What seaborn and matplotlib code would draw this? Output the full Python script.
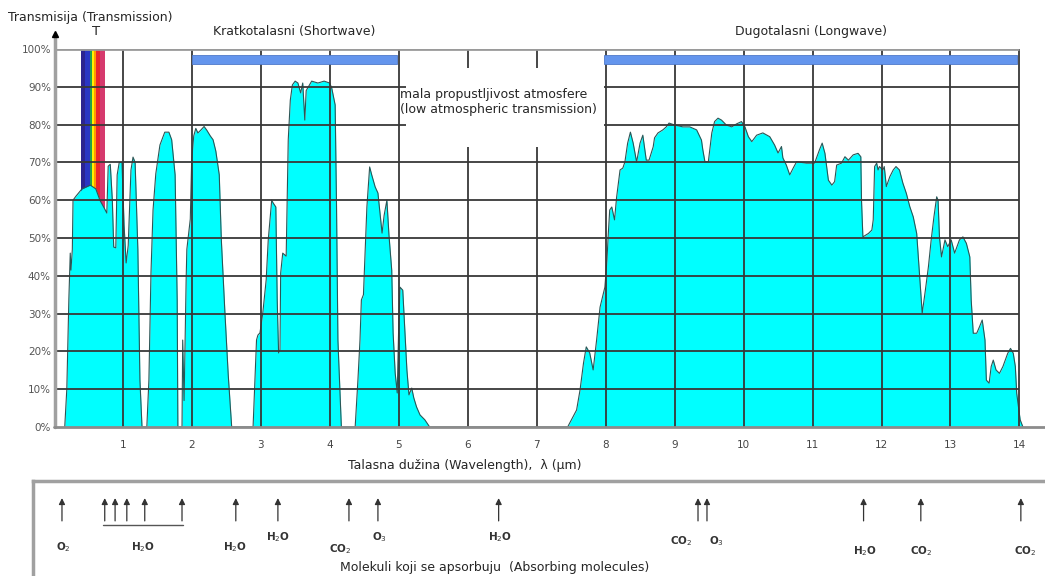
import numpy as np
import pandas as pd
import seaborn as sns
import matplotlib.pyplot as plt
from matplotlib.patches import Rectangle

# atmospheric transmission curve (wavelength in um, transmission in %)
wavelength = [
    0.16, 0.19, 0.22, 0.24, 0.25, 0.27, 0.28, 0.32, 0.41, 0.53, 0.61, 0.67, 0.73, 0.77,
    0.79, 0.82, 0.85, 0.87, 0.90, 0.92, 0.95, 0.99, 1.02, 1.05, 1.08, 1.12, 1.15, 1.18,
    1.22, 1.25, 1.28,
    1.35, 1.38, 1.41, 1.44, 1.48, 1.54, 1.61, 1.67, 1.71, 1.76, 1.79, 1.80,
    1.86, 1.87, 1.89, 1.92, 1.93, 1.98, 2.00, 2.03, 2.06, 2.09, 2.13, 2.18, 2.22, 2.27,
    2.31, 2.35, 2.40, 2.43, 2.48, 2.53, 2.58,
    2.89, 2.94, 2.96, 2.99, 3.03, 3.08, 3.11, 3.16, 3.18, 3.22, 3.24, 3.26, 3.28, 3.29,
    3.32, 3.37, 3.40, 3.43, 3.46, 3.50, 3.54, 3.58, 3.61, 3.64, 3.66, 3.74, 3.83, 3.92,
    4.00, 4.03, 4.08, 4.10, 4.12, 4.17,
    4.37, 4.41, 4.44, 4.46, 4.49, 4.54, 4.58, 4.61, 4.66, 4.70, 4.73, 4.76, 4.79, 4.83,
    4.86, 4.90, 4.92, 4.95, 4.98, 5.00, 5.02, 5.06, 5.09, 5.12, 5.15, 5.19, 5.22, 5.26,
    5.31, 5.38, 5.45,
    7.45, 7.58, 7.63, 7.68, 7.72, 7.77, 7.82, 7.87, 7.92, 7.99, 8.02, 8.04, 8.06, 8.09,
    8.13, 8.16, 8.21, 8.25, 8.28, 8.32, 8.36, 8.40, 8.45, 8.50, 8.54, 8.59, 8.63, 8.69,
    8.71, 8.76, 8.83, 8.88, 8.92, 9.00, 9.12, 9.22, 9.32, 9.39, 9.41, 9.44, 9.49, 9.54,
    9.58, 9.63, 9.68, 9.75, 9.83, 9.90, 9.97, 10.02, 10.07, 10.12, 10.19, 10.28, 10.38,
    10.45, 10.50, 10.55, 10.57, 10.62, 10.67, 10.72, 10.77, 10.91, 11.03, 11.10, 11.14,
    11.18, 11.23, 11.28, 11.32, 11.35, 11.42, 11.47, 11.52, 11.59, 11.66, 11.70, 11.71,
    11.73, 11.81, 11.86, 11.88, 11.90, 11.93, 11.95, 11.97, 12.02, 12.04, 12.07, 12.12,
    12.17, 12.21, 12.26, 12.31, 12.36, 12.41, 12.46, 12.51, 12.56, 12.59, 12.63, 12.68,
    12.72, 12.76, 12.80, 12.82, 12.84, 12.87, 12.92, 12.96, 13.01, 13.06, 13.13, 13.18,
    13.23, 13.28, 13.30, 13.33, 13.38, 13.42, 13.46, 13.50, 13.52, 13.56, 13.59, 13.62,
    13.66, 13.71, 13.76, 13.83, 13.87, 13.91, 13.94, 13.96, 14.01, 14.05,
]
transmission = [
    0, 10, 34, 46, 41.5, 47, 60, 61, 63, 64, 63, 60, 58, 56.6,
    69, 69.5, 60, 47.6, 47.4, 66.7, 70, 70, 53.4, 43.4, 48, 68, 71.4, 70,
    47, 12.4, 0,
    0, 12.4, 40.7, 57.4, 67, 74.6, 78, 78, 76, 66.7, 33.6, 0,
    0, 23, 7, 39, 47, 55, 70.6, 77, 79, 77.8, 78.5, 79.5, 78.5, 77,
    76, 73, 66.7, 49.5, 31, 13.8, 0,
    0, 23, 24.3, 24.9, 30, 38.9, 49.5, 60, 59.3, 58.2, 33.6, 19.6, 20.4, 40.7,
    46, 45.2, 76, 86.5, 90.5, 91.5, 91, 88.4, 91, 81.2, 89, 91.5, 91, 91.5,
    91, 89.7, 85.2, 58.2, 23, 0,
    0, 12.4, 23, 33.6, 35, 58.2, 68.8, 66.7, 63.5, 61.9, 56.6, 51.3, 56, 60,
    50.8, 41.5, 24.9, 14.3, 9, 25.7, 37, 36.2, 25.7, 15.1, 8.5, 10.3, 7.7, 5.3,
    3.2, 1.9, 0,
    0, 4.5, 9.8, 16.9, 21.2, 19.6, 15.1, 23, 31.7, 37, 44.2, 51.3, 57.4, 58.2,
    54.8, 60.8, 68, 68.5, 70.1, 75.1, 78, 75.1, 70.1, 75.1, 77.2, 70.6, 70.6, 74.1,
    76.5, 77.8, 78.6, 79.4, 80.4, 79.9, 79.4, 79.4, 78.6, 75.9, 73.3, 70.2, 70.2, 77.8,
    80.8, 81.7, 81.2, 79.9, 79.4, 80.2, 80.8, 79.4, 76.8, 75.5, 77.2, 77.8, 76.8,
    74.6, 72.5, 74.2, 71.2, 69.3, 66.7, 68.5, 70.2, 69.8, 69.8, 73.3, 75.1,
    72.4, 65.3, 64, 64.9, 69.3, 69.8, 71.5, 70.6, 72, 72.4, 71.5, 60,
    50.3, 51.2, 52.1, 54.8, 68.9, 69.8, 68, 68.9, 68, 68.9, 63.6, 66.2,
    68, 68.9, 68, 64.5, 61.8, 58.3, 55.6, 51.2, 38, 30.1, 35.4, 42.4,
    49.5, 55.6, 60.9, 60, 50.3, 45, 49.5, 47.7, 49.5, 46, 49.5, 50.3,
    48.6, 45, 33.6, 24.8, 24.8, 26.5, 28.3, 23, 12.4, 11.6, 16, 17.7,
    15.1, 14.2, 16, 19.5, 20.8, 19.5, 16, 8.9, 1.9, 0,
]

xticks = [1, 2, 3, 4, 5, 6, 7, 8, 9, 10, 11, 12, 13, 14]
yticks = [0, 10, 20, 30, 40, 50, 60, 70, 80, 90, 100]
ytick_labels = ["0%", "10%", "20%", "30%", "40%", "50%", "60%", "70%", "80%", "90%", "100%"]

# visible light stripe
rainbow_edges = [0.40, 0.45, 0.53, 0.55, 0.59, 0.62, 0.67, 0.74]
rainbow_colors = ["#2c2490", "#2a36c4", "#22a04c", "#fff000", "#ff9a00", "#e8262e", "#d63a6e"]

band_names = ["Kratkotalasni (Shortwave)", "Dugotalasni (Longwave)"]
band_start = [2.0, 7.98]
band_end = [4.98, 13.97]

# absorbing molecules
arrow_pos = [0.12, 0.74, 0.89, 1.06, 1.32, 1.86, 2.64, 3.25, 4.28, 4.70, 6.45,
             9.34, 9.47, 11.74, 12.57, 14.02]
molecule_labels = ["O$_2$", "H$_2$O", "H$_2$O", "H$_2$O", "CO$_2$", "O$_3$", "H$_2$O",
                   "CO$_2$", "O$_3$", "H$_2$O", "CO$_2$", "CO$_2$"]
molecule_pos = [0.135, 1.30, 2.63, 3.25, 4.15, 4.73, 6.47, 9.09, 9.61, 11.76, 12.57, 14.08]
label_y = [0.30, 0.30, 0.30, 0.41, 0.28, 0.41, 0.41, 0.37, 0.37, 0.26, 0.26, 0.26]

sns.set_theme(style="white")
plt.rcParams['font.family'] = ['DejaVu Sans']

df = pd.DataFrame({"wavelength": wavelength, "transmission": transmission})

fig = plt.figure(figsize=(10.45, 5.76), dpi=100)
ax = fig.add_axes([53.7 / 1045, 149 / 576, 991.3 / 1045, 378 / 576])
XMAX = 14.37
ax.set_xlim(0, XMAX)
ax.set_ylim(0, 100)
for s in ax.spines.values():
    s.set_visible(False)

for i, c in enumerate(rainbow_colors):
    ax.axvspan(rainbow_edges[i], rainbow_edges[i + 1], ymin=0, ymax=1, color=c, lw=0, zorder=1)

ax.fill_between(df["wavelength"], 0, df["transmission"], color="#00ffff", lw=0, zorder=2)
sns.lineplot(data=df, x="wavelength", y="transmission", ax=ax, color="#2b5656",
             lw=0.8, zorder=3, estimator=None, sort=False)

ax.hlines(yticks[1:-1], 0, 14, color="#383838", lw=1.3, zorder=4)
ax.vlines(xticks, 0, 100, color="#383838", lw=1.3, zorder=4)
ax.hlines(100, 0, 14, color="#9a9a9a", lw=2, zorder=4)

# low transmission window
ax.add_patch(Rectangle((5.1, 74), 2.88, 21, facecolor="white", edgecolor="none", zorder=5))
ax.text(5.02, 86, "mala propustljivost atmosfere\n(low atmospheric transmission)",
        fontsize=9, va="center", ha="left", linespacing=1.2, zorder=8)

for name, a, b in zip(band_names, band_start, band_end):
    ax.barh(97.3, b - a, left=a, height=2.3, color="#6495ed", edgecolor="#4f79c9",
            lw=0.6, zorder=6)
    ax.text((a + b) / 2, 104.5, name, ha="center", va="center", fontsize=9, clip_on=False)

ax.text(0.61, 104.6, "T", ha="center", va="center", fontsize=9.5, clip_on=False)
ax.plot([0.02, 0.02], [0, 103], color="#a0a0a0", lw=2.5, clip_on=False, zorder=7)
ax.plot([0.02], [104.0], marker="^", ms=4, color="black", clip_on=False, zorder=7)
ax.plot([0, XMAX], [0, 0], color="#8c8c8c", lw=2, clip_on=False, zorder=7)

ax.set_xticks(xticks)
ax.set_xticklabels([str(v) for v in xticks])
ax.set_yticks(yticks)
ax.set_yticklabels(ytick_labels)
ax.tick_params(axis="x", length=0, pad=9, labelsize=7.5, labelcolor="#444444")
ax.tick_params(axis="y", length=0, pad=2, labelsize=7.5, labelcolor="#555555")
ax.set_xlabel("")
ax.set_ylabel("")

fig.text(8 / 1045, 1 - 18 / 576, "Transmisija (Transmission)", fontsize=9, va="center", ha="left")
fig.text(465 / 1045, 1 - 466 / 576, "Talasna dužina (Wavelength),  λ (µm)",
         fontsize=9, va="center", ha="center")

# absorbing molecules panel
ax2 = fig.add_axes([33 / 1045, 0, 1012 / 1045, 95 / 576])
ax2.set_xlim(-20.7 / 69, XMAX)
ax2.set_ylim(0, 1)
ax2.set_xticks([])
ax2.set_yticks([])
ax2.set_facecolor("none")
for k in ["bottom", "right"]:
    ax2.spines[k].set_visible(False)
for k in ["top", "left"]:
    ax2.spines[k].set_color("#a0a0a0")
    ax2.spines[k].set_linewidth(2.5)

for x in arrow_pos:
    ax2.annotate("", xy=(x, 0.82), xytext=(x, 0.58),
                 arrowprops=dict(arrowstyle="-|>", color="#333333", lw=0.9,
                                 mutation_scale=9, shrinkA=0, shrinkB=0))
ax2.plot([arrow_pos[1] - 0.03, arrow_pos[5] + 0.02], [0.535, 0.535], color="#555555", lw=1)
for x, lab, y in zip(molecule_pos, molecule_labels, label_y):
    ax2.text(x, y, lab, ha="center", va="center", fontsize=7.5, color="#333333",
             fontweight="bold")
fig.text(495 / 1045, 1 - 567 / 576, "Molekuli koji se apsorbuju  (Absorbing molecules)",
         fontsize=9, ha="center", va="center")

plt.savefig("out.png", dpi=100)
